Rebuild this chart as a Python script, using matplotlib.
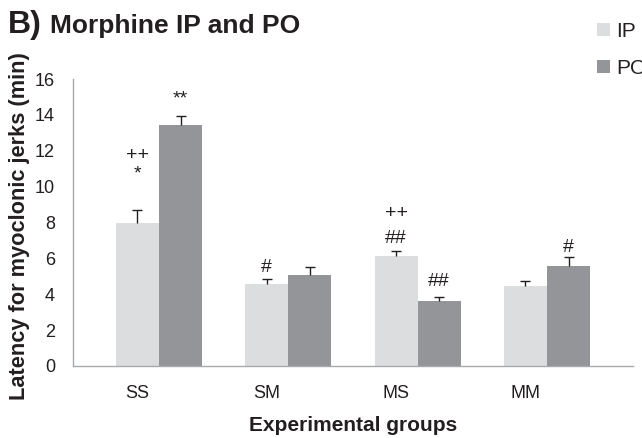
import matplotlib
matplotlib.use("Agg")
import matplotlib.pyplot as plt
import numpy as np

groups = ["SS", "SM", "MS", "MM"]
series = ["IP", "PO"]
ip_values = [7.95, 4.55, 6.15, 4.45]
ip_errors = [0.75, 0.3, 0.28, 0.3]
po_values = [13.45, 5.1, 3.65, 5.6]
po_errors = [0.5, 0.4, 0.22, 0.5]
ip_marks = [["*", "++"], ["#"], ["##", "++"], []]
po_marks = [["**"], [], ["##"], ["#"]]
y_ticks = [0, 2, 4, 6, 8, 10, 12, 14, 16]

plt.rcParams['font.family'] = ['Liberation Sans', 'DejaVu Sans']
colors = ["#dcdddf", "#939598"]
textc = "#231f20"

# annotation offsets above the error-bar tops (layout only)
ip_offsets = [[2.0, 3.05], [0.63], [0.67, 2.07], []]
po_offsets = [[0.93], [], [0.83], [0.53]]

fig = plt.figure(figsize=(6.42, 4.38), dpi=100)
ax = fig.add_axes([73/642, 1 - 366/438, 560/642, (366-79)/438])

x = np.arange(len(groups))
w = 0.333
ekw = dict(ecolor=textc, elinewidth=1.0, capsize=3.3, capthick=1.0)
b1 = ax.bar(x - w/2, ip_values, w, color=colors[0], label=series[0],
            yerr=[np.zeros(4), ip_errors], error_kw=ekw)
b2 = ax.bar(x + w/2, po_values, w, color=colors[1], label=series[1],
            yerr=[np.zeros(4), po_errors], error_kw=ekw)
# hide the lower caps (only upper error shown)
for b in (b1, b2):
    caps = b.errorbar.lines[1]
    if len(caps) >= 1:
        caps[0].set_visible(False)

for i in range(4):
    base = ip_values[i] + ip_errors[i]
    for m, off in zip(ip_marks[i], ip_offsets[i]):
        ax.text(x[i] - w/2, base + off, m, ha='center', va='center', fontsize=14, color=textc)
    base = po_values[i] + po_errors[i]
    for m, off in zip(po_marks[i], po_offsets[i]):
        ax.text(x[i] + w/2, base + off, m, ha='center', va='center', fontsize=14, color=textc)

ax.set_xlim(-0.665, 3.665)
ax.set_ylim(0, 16)
ax.set_yticks(y_ticks)
ax.set_xticks(x - w/2)
ax.set_xticklabels(groups)
ax.tick_params(axis='both', length=0, labelsize=13, colors=textc)
ax.tick_params(axis='y', pad=13)
ax.tick_params(axis='x', pad=14)
for s in ['top', 'right']:
    ax.spines[s].set_visible(False)
for s in ['left', 'bottom']:
    ax.spines[s].set_color('#a7a9ac')
    ax.spines[s].set_linewidth(1.0)

ax.set_ylabel("Latency for myoclonic jerks (min)", fontsize=15.7, fontweight='bold', color=textc)
ax.yaxis.set_label_coords(-0.0775, 0.486)
ax.set_xlabel("Experimental groups", fontsize=15, fontweight='bold', color=textc, labelpad=9.5)

fig.text(8/642, 1 - 25/438, "B)", fontsize=23, fontweight='bold', color=textc, va='center', ha='left')
fig.text(50/642, 1 - 26/438, "Morphine IP and PO", fontsize=19, fontweight='bold', color=textc, va='center', ha='left')

leg = fig.legend(handles=[b1, b2], labels=series, loc='upper left', bbox_to_anchor=(597/642, 1 - 22/438),
                 frameon=False, fontsize=15, handlelength=0.6, handleheight=0.6, handletextpad=0.3,
                 labelspacing=0.85, borderaxespad=0, borderpad=0)
for t in leg.get_texts():
    t.set_color(textc)

fig.savefig("out.png", dpi=100)
